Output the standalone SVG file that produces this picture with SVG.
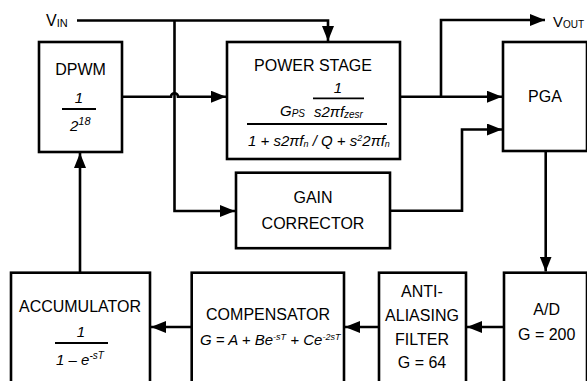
<svg xmlns="http://www.w3.org/2000/svg" width="587" height="381" viewBox="0 0 587 381">
<defs>
<style>
.box{fill:#fff;stroke:#000;stroke-width:2.6}
.ln{fill:none;stroke:#000;stroke-width:2.6}
.t{font-family:"Liberation Sans",Arial,sans-serif;font-size:16px;fill:#000;text-anchor:middle}
.m{font-family:"Liberation Sans",Arial,sans-serif;font-style:italic;font-size:15px;fill:#000}
.fl{stroke:#000;stroke-width:1.8}
</style>
<marker id="ah" markerUnits="userSpaceOnUse" markerWidth="16" markerHeight="12" refX="15" refY="6" orient="auto">
<path d="M0,0 L15,6 L0,12 z" fill="#000"/>
</marker>
</defs>
<rect width="587" height="381" fill="#fff"/>

<g id="connectors">
<path class="ln" d="M77,20.5 H328 V41" marker-end="url(#ah)"/>
<path class="ln" d="M174.5,20.5 V211 H235" marker-end="url(#ah)"/>
<path class="ln" d="M122,96.7 H171 a3.5,3.5 0 0 1 7,0 H226" marker-end="url(#ah)"/>
<path class="ln" d="M400,96.7 H502" marker-end="url(#ah)"/>
<path class="ln" d="M441,96.7 V20 H545" marker-end="url(#ah)"/>
<path class="ln" d="M390,210.7 H462 V129.5 H502" marker-end="url(#ah)"/>
<path class="ln" d="M545.7,151 V271.5" marker-end="url(#ah)"/>
<path class="ln" d="M504,327 H467" marker-end="url(#ah)"/>
<path class="ln" d="M379,327 H345" marker-end="url(#ah)"/>
<path class="ln" d="M191.7,327 H151" marker-end="url(#ah)"/>
<path class="ln" d="M80,272.5 V153" marker-end="url(#ah)"/>
</g>

<g id="vin">
<text x="46" y="26" font-family="Liberation Sans,Arial,sans-serif" font-size="16">V<tspan font-size="11" dy="1">IN</tspan></text>
</g>
<g id="vout">
<text x="553" y="27" font-family="Liberation Sans,Arial,sans-serif" font-size="15">V<tspan font-size="10" dy="1">OUT</tspan></text>
</g>

<g id="dpwm">
<rect class="box" x="39" y="42" width="83" height="110"/>
<text class="t" x="80.5" y="75">DPWM</text>
<text class="m" x="79" y="103" text-anchor="middle" font-size="16">1</text>
<line class="fl" x1="62" y1="109" x2="96" y2="109"/>
<text class="m" x="70" y="131" font-size="16">2<tspan font-size="11" dy="-6">18</tspan></text>
</g>

<g id="power-stage">
<rect class="box" x="227" y="42" width="173" height="117"/>
<text class="t" x="313" y="71">POWER STAGE</text>
<text class="m" x="338" y="93" text-anchor="middle" font-size="16">1</text>
<line class="fl" x1="313" y1="98.3" x2="364" y2="98.3"/>
<text class="m" x="280" y="116">G<tspan font-size="10" dy="1">PS</tspan></text>
<text class="m" x="314" y="116.5">s2πf<tspan font-size="10" dy="1">zesr</tspan></text>
<line class="fl" x1="247" y1="124" x2="387" y2="124"/>
<text class="m" x="248" y="146" font-size="14">1 + s2πf<tspan font-size="9" dy="1">n</tspan><tspan dy="-1"> / Q + s</tspan><tspan font-size="9" dy="-5">2</tspan><tspan dy="5">2πf</tspan><tspan font-size="9" dy="1">n</tspan></text>
</g>

<g id="pga">
<rect class="box" x="503" y="42" width="84" height="109"/>
<text class="t" x="545" y="102">PGA</text>
</g>

<g id="gain-corrector">
<rect class="box" x="236" y="172.7" width="154" height="75.5"/>
<text class="t" x="313" y="203">GAIN</text>
<text class="t" x="313" y="229">CORRECTOR</text>
</g>

<g id="accumulator">
<rect class="box" x="11" y="272.7" width="139" height="115"/>
<text class="t" x="80" y="311.7">ACCUMULATOR</text>
<text class="m" x="81" y="337" text-anchor="middle" font-size="16">1</text>
<line class="fl" x1="55" y1="343" x2="108" y2="343"/>
<text class="m" x="56" y="365" font-size="16">1 – e<tspan font-size="10" dy="-6">-sT</tspan></text>
</g>

<g id="compensator">
<rect class="box" x="191.7" y="272.7" width="152.3" height="115"/>
<text class="t" x="268" y="320">COMPENSATOR</text>
<text class="m" x="200" y="345" font-size="14">G = A + Be<tspan font-size="9" dy="-5">-sT</tspan><tspan dy="5"> + Ce</tspan><tspan font-size="9" dy="-5">-2sT</tspan></text>
</g>

<g id="anti-aliasing-filter">
<rect class="box" x="379" y="272.7" width="87" height="115"/>
<text class="t" x="422" y="297">ANTI-</text>
<text class="t" x="422" y="321">ALIASING</text>
<text class="t" x="422" y="345">FILTER</text>
<text class="t" x="422" y="368">G = 64</text>
</g>

<g id="ad">
<rect class="box" x="504" y="272.7" width="83" height="115"/>
<text class="t" x="546.7" y="315">A/D</text>
<text class="t" x="546.7" y="340">G = 200</text>
</g>
</svg>
